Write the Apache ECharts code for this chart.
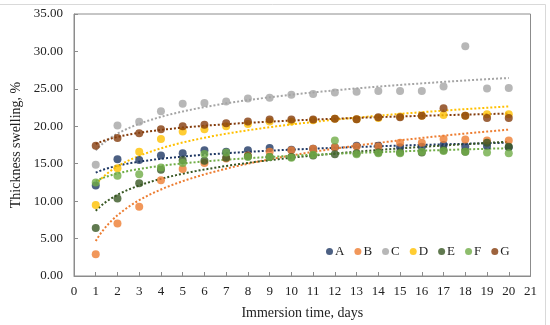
<!DOCTYPE html>
<html><head><meta charset="utf-8">
<script src="https://cdn.jsdelivr.net/npm/echarts@6/dist/echarts.min.js"></script>
<style>html,body{margin:0;padding:0;background:#fff}#c{width:550px;height:325px}</style>
</head><body><div id="c"></div>
<script>
const days = [1,2,3,4,5,6,7,8,9,10,11,12,13,14,15,16,17,18,19,20];
const seriesNames = ['A','B','C','D','E','F','G'];
const A = [12.1,15.6,15.5,16.1,16.4,16.8,16.6,16.8,17.1,16.85,17.0,17.2,17.4,17.4,17.2,17.25,17.5,17.3,17.35,17.2];
const B = [2.9,7.0,9.25,12.8,14.3,15.1,15.7,16.1,16.6,16.8,17.0,17.2,17.3,17.3,17.8,17.8,18.3,18.25,18.1,18.1];
const C = [14.85,20.1,20.6,22.0,23.0,23.1,23.3,23.7,23.8,24.2,24.3,24.5,24.6,24.7,24.7,24.7,25.3,30.7,25.05,25.1];
const D = [9.5,14.4,16.6,18.3,19.3,19.6,20.0,20.3,20.65,20.65,20.8,21.0,20.95,21.1,21.3,21.4,21.5,21.4,21.6,21.6];
const E = [6.4,10.35,12.4,14.2,15.45,15.4,15.8,16.0,15.9,15.9,16.1,16.25,16.4,16.5,16.5,16.5,16.8,16.6,17.8,17.25];
const F = [12.5,13.4,13.6,14.5,15.1,16.3,16.5,15.9,15.9,15.8,16.2,18.1,16.25,16.4,16.4,16.6,16.7,16.6,16.5,16.4];
const G = [17.4,18.45,19.06,19.6,20.0,20.2,20.4,20.65,20.9,20.9,20.9,21.0,20.95,21.2,21.2,21.4,22.4,21.4,21.1,21.1];
const colors = ['#1F3864','#ED7D31','#A5A5A5','#FFC000','#385723','#70AD47','#843C0C'];
const yTicks = [0,5,10,15,20,25,30,35];
const xTicks = [0,1,2,3,4,5,6,7,8,9,10,11,12,13,14,15,16,17,18,19,20,21];

const values = [A,B,C,D,E,F,G];
const font = "'Liberation Serif','Times New Roman',serif";

function logFit(xs, ys){
  const n = xs.length;
  let sl=0, sy=0, sll=0, sly=0;
  for(let i=0;i<n;i++){const l=Math.log(xs[i]); sl+=l; sy+=ys[i]; sll+=l*l; sly+=l*ys[i];}
  const b=(n*sly-sl*sy)/(n*sll-sl*sl);
  const a=(sy-b*sl)/n;
  const pts=[];
  for(let x=xs[0]; x<=xs[n-1]+1e-9; x+=0.1){pts.push([x, a+b*Math.log(x)]);}
  return pts;
}

const series = [];
values.forEach((v,i)=>{
  series.push({
    type:'line', data: logFit(days, v), showSymbol:false, symbol:'none', silent:true,
    lineStyle:{color:colors[i], width:2, type:[2,2]}, z:1
  });
});
values.forEach((v,i)=>{
  series.push({
    name: seriesNames[i], type:'scatter', data: days.map((d,k)=>[d,v[k]]),
    symbol:'circle', symbolSize:8, itemStyle:{color:colors[i]}, z:2
  });
});

const chart = echarts.init(document.getElementById('c'), null, {renderer:'canvas'});
chart.setOption({
  animation:false,
  backgroundColor:'#fff',
  color: colors,
  grid:{left:74, right:19.5, top:14, bottom:46, show:true, borderColor:'#8c8c8c', borderWidth:1},
  graphic:[{type:'rect', shape:{x:-1.5,y:4.5,width:547,height:330}, style:{fill:'none', stroke:'#d9d9d9', lineWidth:1}, silent:true, z:-1}],
  legend:{
    data: seriesNames, left:321, top:240, itemWidth:7, itemHeight:7, itemGap:10,
    icon:'circle', textStyle:{fontFamily:font, fontSize:13, color:'#222', padding:[0,0,0,-3]}
  },
  xAxis:{
    type:'value', min:0, max:21, interval:1,
    name:'Immersion time, days', nameLocation:'middle', nameGap:30,
    nameTextStyle:{fontFamily:font, fontSize:14, color:'#222'},
    axisLine:{lineStyle:{color:'#8c8c8c'}},
    axisTick:{inside:true, length:4, lineStyle:{color:'#8c8c8c'}},
    axisLabel:{fontFamily:font, fontSize:13, color:'#222', margin:9,
      formatter:(v)=> xTicks.includes(v)? String(v):''},
    splitLine:{show:false}
  },
  yAxis:{
    type:'value', min:0, max:35, interval:5,
    name:'Thickness swelling, %', nameLocation:'middle', nameGap:45, nameRotate:90,
    nameTextStyle:{fontFamily:font, fontSize:14, color:'#222'},
    axisLine:{show:true, lineStyle:{color:'#8c8c8c'}},
    axisTick:{show:true, inside:true, length:4, lineStyle:{color:'#8c8c8c'}},
    axisLabel:{fontFamily:font, fontSize:13, color:'#222', margin:11,
      formatter:(v)=> yTicks.includes(v)? v.toFixed(2):''},
    splitLine:{show:false}
  },
  series: series
});
</script></body></html>
